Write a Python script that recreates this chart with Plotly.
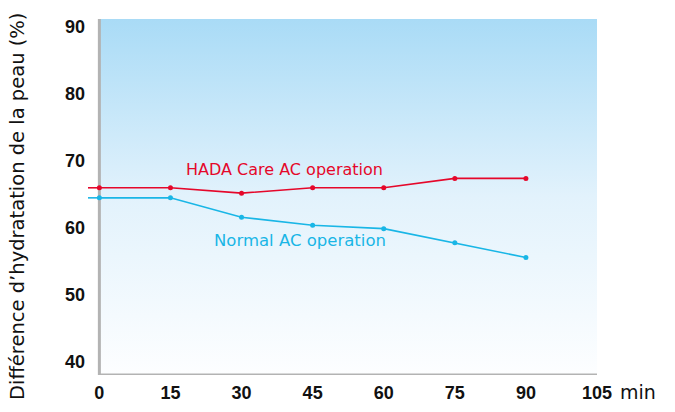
import plotly.graph_objects as go

# ---- data ----
minutes = [0, 15, 30, 45, 60, 75, 90]
hada_care = [66.0, 66.0, 65.2, 66.0, 66.0, 67.4, 67.4]
normal_ac = [64.5, 64.5, 61.6, 60.4, 59.9, 57.8, 55.6]
x_ticks = [0, 15, 30, 45, 60, 75, 90, 105]
y_ticks = [40, 50, 60, 70, 80, 90]

RED = "#e5072a"
BLUE = "#19b6e6"
AXIS = "#b3b3b3"
X_MIN, X_MAX = -2.4, 105
Y_MIN, Y_MAX = 38.06, 91.19

W, H = 675, 412
ML, MR, MT, MB = 88, 78, 19, 37
PW, PH = W - ML - MR, H - MT - MB


def px_to_paper(px, py):
    return (px - ML) / PW, 1 - (py - MT) / PH


fig = go.Figure()

# gradient background of the plotting area (from x=0 to the right end)
fig.add_trace(go.Scatter(
    x=[0, X_MAX, X_MAX, 0, 0], y=[Y_MIN, Y_MIN, Y_MAX, Y_MAX, Y_MIN],
    mode="lines", line=dict(width=0), fill="toself",
    fillgradient=dict(type="vertical",
                      colorscale=[[0, "#fdfeff"], [0.5, "#e2f2fc"], [1, "#a9dbf6"]]),
    hoverinfo="skip", showlegend=False))

# axis lines (drawn beneath the data lines)
fig.add_trace(go.Scatter(x=[0, 0, X_MAX], y=[Y_MAX, Y_MIN, Y_MIN], mode="lines",
                         line=dict(color=AXIS, width=3), hoverinfo="skip",
                         showlegend=False, cliponaxis=False))

for vals, col in [(hada_care, RED), (normal_ac, BLUE)]:
    # short lead-in left of the axis at the first value
    fig.add_trace(go.Scatter(x=[X_MIN, minutes[0]], y=[vals[0], vals[0]], mode="lines",
                             line=dict(color=col, width=1.6), showlegend=False, hoverinfo="skip"))
    fig.add_trace(go.Scatter(x=minutes, y=vals, mode="lines+markers",
                             line=dict(color=col, width=1.6),
                             marker=dict(color=col, size=5), showlegend=False))

tick_font = dict(family="Liberation Sans", size=18, color="#111111", weight="bold")

mx, my = px_to_paper(638, 392)
tx, ty = px_to_paper(18, 207)

fig.update_layout(
    width=W, height=H,
    margin=dict(l=ML, r=MR, t=MT, b=MB, autoexpand=False),
    paper_bgcolor="white", plot_bgcolor="white",
    font=dict(family="DejaVu Sans"),
    xaxis=dict(range=[X_MIN, X_MAX], tickvals=x_ticks, showgrid=False, zeroline=False,
               showline=False, ticks="", tickfont=tick_font, ticklabelstandoff=5,
               automargin=False, fixedrange=True),
    yaxis=dict(range=[Y_MIN, Y_MAX], tickvals=y_ticks, showgrid=False, zeroline=False,
               showline=False, ticks="", tickfont=tick_font, ticklabelstandoff=2,
               automargin=False, fixedrange=True),
    annotations=[
        dict(text="HADA Care AC operation", x=39.1, y=68.66, xref="x", yref="y",
             showarrow=False, font=dict(size=16, color=RED, family="DejaVu Sans")),
        dict(text="Normal AC operation", x=42.3, y=58.06, xref="x", yref="y",
             showarrow=False, font=dict(size=16.5, color=BLUE, family="DejaVu Sans")),
        dict(text="min", x=mx, y=my, xref="paper", yref="paper", showarrow=False,
             xanchor="center", yanchor="middle",
             font=dict(size=19, color="#111111", family="DejaVu Sans")),
        dict(text="Différence d’hydratation de la peau (%)", textangle=-90,
             x=tx, y=ty, xref="paper", yref="paper", showarrow=False,
             xanchor="center", yanchor="middle",
             font=dict(size=19.5, color="#111111", family="DejaVu Sans")),
    ],
)

fig.write_html("out.html", config={"displayModeBar": False},
               post_script="document.body.style.margin='0';")
